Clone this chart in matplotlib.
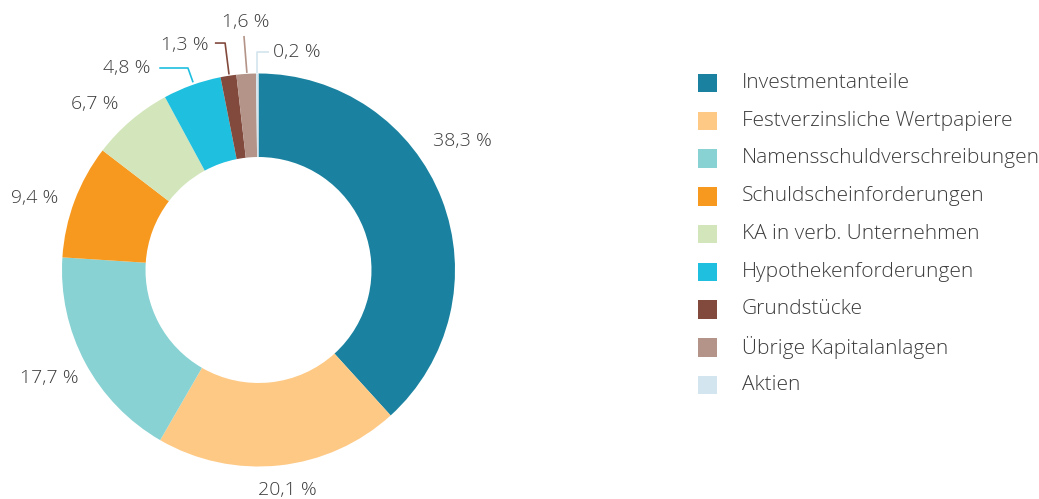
import matplotlib
matplotlib.use("Agg")
import matplotlib.pyplot as plt
from matplotlib.patches import Rectangle

categories = ["Investmentanteile", "Festverzinsliche Wertpapiere", "Namensschuldverschreibungen",
              "Schuldscheinforderungen", "KA in verb. Unternehmen", "Hypothekenforderungen",
              "Grundstücke", "Übrige Kapitalanlagen", "Aktien"]
values = [38.3, 20.1, 17.7, 9.4, 6.7, 4.8, 1.3, 1.6, 0.2]
colors = ["#1A82A0", "#FEC985", "#88D2D3", "#F7991F", "#D3E6BB", "#1FBFE0",
          "#82493D", "#B49488", "#D3E5EE"]

plt.rcParams['font.family'] = ['Open Sans', 'DejaVu Sans']
TXT = "#3c3c3c"
FW = 'light'

W, H = 1039, 499
fig = plt.figure(figsize=(W / 100, H / 100), dpi=100)

# pie axes: center (258.5, 270) px, radius 196.5 px
cx, cy, R = 258.5, 270, 196.5
ax = fig.add_axes([(cx - R) / W, (H - cy - R) / H, 2 * R / W, 2 * R / H])
wedges, _ = ax.pie(values, colors=colors, startangle=90, counterclock=False,
                   radius=1.0, wedgeprops=dict(width=0.425, linewidth=0))
ax.set_xlim(-1, 1)
ax.set_ylim(-1, 1)
ax.set_aspect('equal')
ax.axis('off')

def fmt(v):
    return f"{v:.1f}".replace(".", ",") + " %"

# label positions (pie units)
label_pos = [(1.036, 0.655), (0.145, -1.120), (-1.065, -0.548), (-1.138, 0.366),
             (-0.832, 0.845), (-0.669, 1.030), (-0.374, 1.147), (-0.066, 1.262),
             (0.195, 1.109)]
for v, (x, y) in zip(values, label_pos):
    ax.text(x, y, fmt(v), ha='center', va='center', fontsize=14, color=TXT,
            fontweight=FW, clip_on=False)

leaders = [
    (5, [(-0.505, 1.028), (-0.359, 1.028), (-0.333, 0.955)]),
    (6, [(-0.222, 1.155), (-0.170, 1.155), (-0.150, 0.995)]),
    (7, [(-0.074, 1.191), (-0.059, 1.003)]),
    (8, [(0.052, 1.109), (-0.008, 1.109), (-0.008, 1.003)]),
]
for i, pts in leaders:
    xs = [p[0] for p in pts]
    ys = [p[1] for p in pts]
    ax.plot(xs, ys, color=colors[i], lw=1.2, clip_on=False, solid_capstyle='butt')

# legend (pixel coords overlay)
lax = fig.add_axes([0, 0, 1, 1])
lax.set_xlim(0, W)
lax.set_ylim(H, 0)
lax.axis('off')
y0, dy = 83, 37.75
for i, (c, name) in enumerate(zip(colors, categories)):
    y = y0 + i * dy
    lax.add_patch(Rectangle((698, y - 9.25), 18.5, 18.5, facecolor=c, edgecolor='none'))
    lax.text(742, y, name, ha='left', va='center', fontsize=15, color=TXT, fontweight=FW)

fig.savefig("out.png", dpi=100)
